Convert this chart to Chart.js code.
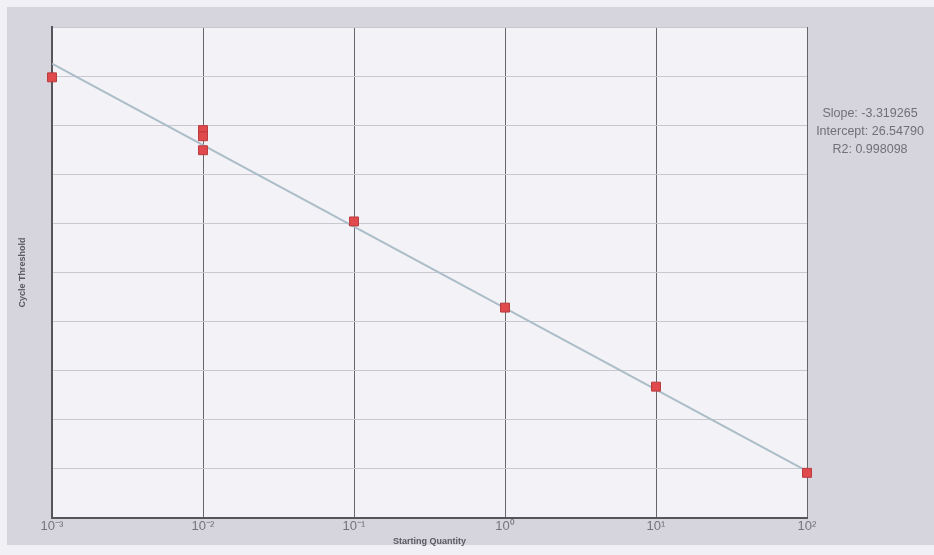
<!DOCTYPE html>
<html>
<head>
<meta charset="utf-8">
<script src="https://cdn.jsdelivr.net/npm/chart.js@4/dist/chart.umd.min.js"></script>
<style>
  html, body { margin: 0; padding: 0; background: #f1f0f4; }
  #wrap { width: 934px; height: 555px; position: relative; }
</style>
</head>
<body>
<div id="wrap"><canvas id="grafico" width="934" height="555"></canvas></div>
<script>
// Starting quantity (x) and cycle threshold (y) of each standard
const quantidades = [0.001, 0.01, 0.01, 0.01, 0.1, 1, 10, 100];
const ciclos = [35.95, 33.8, 33.55, 32.98, 30.08, 26.57, 23.35, 19.84];

// Regression line endpoints
const retaX = [0.001, 100];
const retaY = [36.51, 19.91];

const ticksX = [0.001, 0.01, 0.1, 1, 10, 100];
const rotulosX = ["10\u207B\u00B3", "10\u207B\u00B2", "10\u207B\u00B9", "10\u2070", "10\u00B9", "10\u00B2"];

const estatisticas = ["Slope: -3.319265", "Intercept: 26.54790", "R2: 0.998098"];

// Fundo cinza + área do gráfico clara + texto da regressão
const fundo = {
    id: "fundo",
    beforeDraw(chart) {
        const c = chart.ctx;
        const a = chart.chartArea;
        c.save();
        c.fillStyle = "#f1f0f4";
        c.fillRect(0, 0, chart.width, chart.height);
        c.fillStyle = "#d6d4dc";
        c.fillRect(7, 7, chart.width - 7, 538);
        c.fillStyle = "#f3f2f6";
        c.fillRect(a.left, a.top, a.right - a.left, a.bottom - a.top);
        c.restore();
    },
    afterDraw(chart) {
        const c = chart.ctx;
        c.save();
        c.fillStyle = "#707076";
        c.font = "12.5px 'Liberation Sans', Arial, sans-serif";
        c.textAlign = "center";
        c.textBaseline = "middle";
        estatisticas.forEach((t, i) => c.fillText(t, 870, 114 + i * 18));
        c.restore();
    }
};

new Chart(document.getElementById("grafico"), {
    type: "scatter",
    data: {
        datasets: [
            {
                type: "line",
                data: retaX.map((x, i) => ({ x: x, y: retaY[i] })),
                borderColor: "#aabdc8",
                borderWidth: 2,
                pointRadius: 0,
                order: 2
            },
            {
                data: quantidades.map((x, i) => ({ x: x, y: ciclos[i] })),
                pointStyle: "rect",
                pointRadius: 6.3,
                backgroundColor: "#e04a4c",
                borderColor: "#b83a3c",
                borderWidth: 1,
                clip: false,
                order: 1
            }
        ]
    },
    options: {
        responsive: false,
        animation: false,
        layout: { padding: { left: 0, top: 27, right: 127, bottom: 8 } },
        plugins: { legend: { display: false }, tooltip: { enabled: false } },
        scales: {
            x: {
                type: "logarithmic",
                min: 0.001,
                max: 100,
                afterBuildTicks: s => { s.ticks = ticksX.map(v => ({ value: v })); },
                afterFit: s => { s.height = 29; },
                grid: { color: "#66666b", lineWidth: 1, drawTicks: false },
                border: { color: "#55555a", width: 2 },
                ticks: {
                    color: "#74747a",
                    padding: 1,
                    maxRotation: 0,
                    font: { family: "'Liberation Sans', Arial", size: 13 },
                    callback: (v, i) => rotulosX[i]
                },
                title: {
                    display: true,
                    text: "Starting Quantity",
                    color: "#5a5a60",
                    padding: { top: -2, bottom: 0 },
                    font: { family: "'Liberation Sans', Arial", size: 9, weight: "bold" }
                }
            },
            y: {
                min: 18,
                max: 38,
                afterFit: s => { s.width = 52; },
                grid: { color: "#c9c8ce", lineWidth: 1, drawTicks: false },
                border: { color: "#55555a", width: 2 },
                ticks: { stepSize: 2, display: false },
                title: {
                    display: true,
                    text: "Cycle Threshold",
                    color: "#5a5a60",
                    padding: { top: 17, bottom: 0 },
                    font: { family: "'Liberation Sans', Arial", size: 9, weight: "bold" }
                }
            }
        }
    },
    plugins: [fundo]
});
</script>
</body>
</html>
